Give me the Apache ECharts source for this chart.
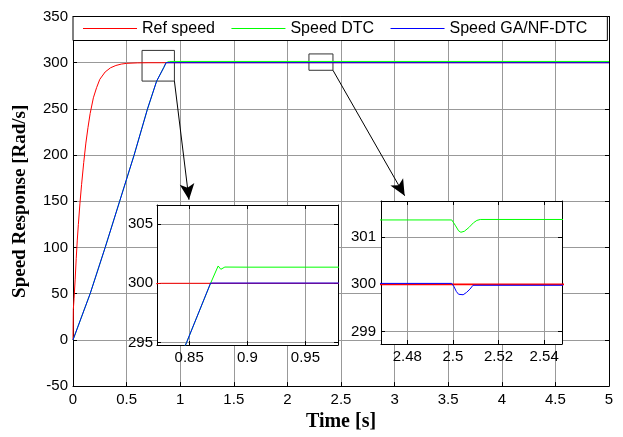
<!DOCTYPE html>
<html>
<head>
<meta charset="utf-8">
<script src="https://cdn.jsdelivr.net/npm/echarts@6/dist/echarts.min.js"></script>
<style>
  html, body { margin: 0; padding: 0; background: #fff; }
  #chart { width: 623px; height: 437px; }
</style>
</head>
<body>
<div id="chart"></div>
<script>
// values (time in s, speed in rad/s)
const refTime = [0, 0.003, 0.01, 0.02, 0.03, 0.04, 0.05, 0.065, 0.08, 0.1, 0.12, 0.14, 0.16, 0.19, 0.22, 0.25, 0.3, 0.35, 0.4, 0.45, 0.5, 0.6, 0.7, 0.822, 0.826, 5];
const refSpeed = [0, 33, 45, 65, 88, 108, 125, 148, 168, 192, 213, 230, 245, 262, 273, 282, 290, 294.5, 297, 298.5, 299.3, 299.8, 299.95, 299.97, 300, 300];

const dtcTime = [0, 0.16, 0.3, 0.435, 0.57, 0.695, 0.78, 0.8477, 0.8684, 0.8749, 0.8772, 0.8807, 0.9, 2.4995, 2.501, 2.5025, 2.5035, 2.505, 2.507, 2.509, 2.5105, 2.512, 5];
const dtcSpeed = [0, 50, 100, 150, 200, 250, 280, 295, 300, 301.46, 301.18, 301.37, 301.36, 301.36, 301.25, 301.13, 301.1, 301.12, 301.2, 301.3, 301.35, 301.37, 301.36];

const gaTime = [0, 0.16, 0.3, 0.435, 0.57, 0.695, 0.78, 0.8477, 0.8684, 2.4995, 2.5005, 2.5015, 2.5025, 2.5045, 2.506, 2.5075, 2.5088, 5];
const gaSpeed = [0, 50, 100, 150, 200, 250, 280, 295, 300.02, 300.02, 299.95, 299.85, 299.79, 299.78, 299.83, 299.9, 299.98, 299.98];

const seriesNames = ['Ref speed', 'Speed DTC', 'Speed GA/NF-DTC'];
const seriesColors = ['#ff0000', '#00ff00', '#0000ff'];

// zoom boxes and arrows, in main-axis coordinates
const zoomBoxes = [[[0.644, 313.3], [0.946, 280.1]], [[2.201, 309.5], [2.425, 291.8]]];
const zoomArrows = [[[0.946, 280.1], [1.082, 151.7]], [[2.425, 291.8], [3.094, 156]]];

// inset ranges and tick values
const inset1X = [0.8223, 0.978], inset1Y = [294.8, 306.6];
const inset1XTicks = [0.85, 0.9, 0.95], inset1YTicks = [295, 300, 305];
const inset2X = [2.4685, 2.5478], inset2Y = [298.74, 301.76];
const inset2XTicks = [2.48, 2.5, 2.52, 2.54], inset2YTicks = [299, 300, 301];
const insetTicks = [[inset1XTicks, inset1YTicks], [inset2XTicks, inset2YTicks]];

const sans = "'Liberation Sans', Arial, sans-serif";
const serif = "'Liberation Serif', 'Times New Roman', serif";

const zip = (t, v) => t.map((x, i) => [x, v[i]]);
const lines = [zip(refTime, refSpeed), zip(dtcTime, dtcSpeed), zip(gaTime, gaSpeed)];

function makeAxis(gridIndex, position, range, ticks, interval, labelMargin, z) {
  const ax = {
    type: 'value', gridIndex, position, min: range[0], max: range[1], z,
    axisLine: { show: true, onZero: false, lineStyle: { color: '#000', width: 1 } },
    axisTick: { show: true, inside: true, length: 4, lineStyle: { color: '#000' } },
    axisLabel: { show: labelMargin != null, margin: labelMargin || 0, color: '#000', fontSize: 15, fontFamily: sans },
    splitLine: { show: labelMargin != null && !!interval, showMinLine: false, showMaxLine: false, lineStyle: { color: '#999', width: 1 } }
  };
  if (interval) {
    ax.interval = interval;
  } else {
    ax.axisTick.customValues = ticks;
    ax.axisLabel.customValues = ticks;
  }
  return ax;
}

const xAxis = [
  Object.assign(makeAxis(0, 'bottom', [0, 5], null, 0.5, 6, 0), {
    name: 'Time [s]', nameLocation: 'middle', nameGap: 25,
    nameTextStyle: { fontFamily: serif, fontWeight: 'bold', fontSize: 20, color: '#000' }
  }),
  makeAxis(0, 'top', [0, 5], null, 0.5, null, 0),
  makeAxis(1, 'bottom', inset1X, inset1XTicks, null, 5, 8),
  makeAxis(1, 'top', inset1X, inset1XTicks, null, null, 8),
  makeAxis(2, 'bottom', inset2X, inset2XTicks, null, 5, 8),
  makeAxis(2, 'top', inset2X, inset2XTicks, null, null, 8)
];
const yAxis = [
  Object.assign(makeAxis(0, 'left', [-50, 350], null, 50, 5, 0), {
    name: 'Speed Response [Rad/s]', nameLocation: 'middle', nameGap: 43,
    nameTextStyle: { fontFamily: serif, fontWeight: 'bold', fontSize: 19, color: '#000' }
  }),
  makeAxis(0, 'right', [-50, 350], null, 50, null, 0),
  makeAxis(1, 'left', inset1Y, inset1YTicks, null, 4, 8),
  makeAxis(1, 'right', inset1Y, inset1YTicks, null, null, 8),
  makeAxis(2, 'left', inset2Y, inset2YTicks, null, 5, 8),
  makeAxis(2, 'right', inset2Y, inset2YTicks, null, null, 8)
];

const series = [];
[0, 1, 2].forEach(g => {
  if (g) {
    // inset grid lines at the inset tick values
    const [xt, yt] = insetTicks[g - 1];
    series.push({
      type: 'line', data: [], xAxisIndex: g * 2, yAxisIndex: g * 2, silent: true, z: 7,
      markLine: {
        silent: true, symbol: 'none', label: { show: false },
        lineStyle: { color: '#999', type: 'solid', width: 1 },
        data: xt.map(v => ({ xAxis: v })).concat(yt.map(v => ({ yAxis: v })))
      }
    });
  }
  lines.forEach((data, i) => {
    series.push({
      type: 'line', name: seriesNames[i], data,
      xAxisIndex: g * 2, yAxisIndex: g * 2,
      symbol: 'none', color: seriesColors[i],
      lineStyle: { width: g === 2 && i === 0 ? 1.6 : 1, color: seriesColors[i] },
      z: g ? 9 : 2
    });
  });
});
series.push({
  type: 'line', data: [], xAxisIndex: 0, yAxisIndex: 0, silent: true,
  markArea: {
    silent: true,
    itemStyle: { color: 'rgba(0,0,0,0)', borderColor: '#333', borderWidth: 1 },
    label: { show: false },
    data: zoomBoxes.map(b => [{ coord: b[0] }, { coord: b[1] }])
  },
  markLine: {
    silent: true, symbol: ['none', 'arrow'], symbolSize: [11, 16],
    label: { show: false },
    lineStyle: { color: '#000', type: 'solid', width: 1 },
    data: zoomArrows.map(a => [{ coord: a[0] }, { coord: a[1] }])
  }
});

const chart = echarts.init(document.getElementById('chart'));
chart.setOption({
  animation: false,
  backgroundColor: '#fff',
  grid: [
    { left: 73, top: 16.5, width: 536, height: 377, show: true, backgroundColor: '#fff', borderWidth: 0 },
    { left: 157, top: 205, width: 181, height: 140, show: true, backgroundColor: '#fff', borderWidth: 0, z: 5 },
    { left: 381, top: 201, width: 181, height: 143, show: true, backgroundColor: '#fff', borderWidth: 0, z: 5 }
  ],
  legend: {
    data: seriesNames,
    left: 73, top: 16.5,
    icon: 'rect', itemWidth: 54, itemHeight: 1, itemGap: 16.5,
    padding: [4, 20, 4, 10],
    backgroundColor: '#fff', borderColor: '#000', borderWidth: 1,
    textStyle: { fontSize: 16, fontFamily: sans, color: '#000' }
  },
  xAxis, yAxis, series
});
</script>
</body>
</html>
